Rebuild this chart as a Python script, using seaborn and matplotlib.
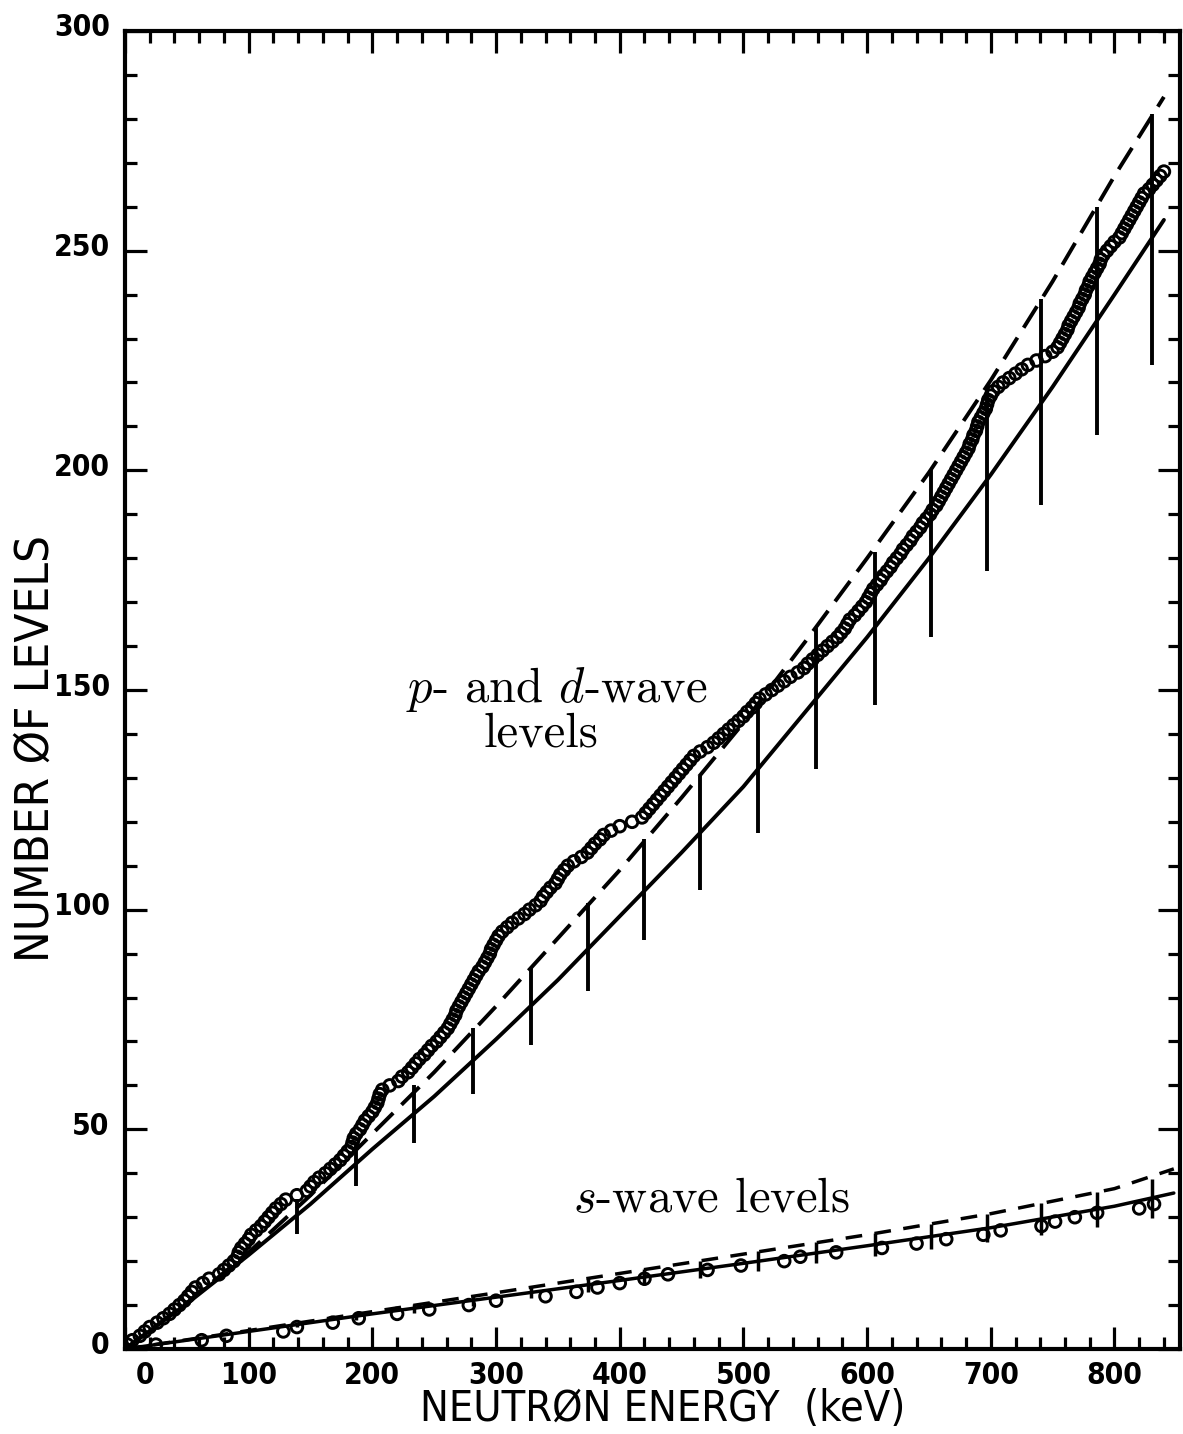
import matplotlib
matplotlib.use("Agg")
import matplotlib.pyplot as plt
import matplotlib.transforms as mtransforms
from matplotlib.ticker import MultipleLocator
import seaborn as sns
import pandas as pd

# ---------------- data ----------------
# p- and d-wave levels: energy (keV) of each successive level (count = index + 1)
p_level_E = [2, 6, 12, 16, 20, 26, 31, 36, 40, 44, 48, 51, 54, 57, 63, 68, 76, 80, 84, 88,
             91, 92, 94, 97, 100, 102, 106, 110, 113, 116, 119, 122, 126, 130, 139, 147, 150, 153, 157, 162,
             166, 170, 174, 177, 180, 183, 184, 185, 187, 190, 192, 194, 197, 200, 202, 204, 205, 206, 208, 214,
             221, 224, 229, 232, 235, 238, 242, 245, 248, 252, 255, 258, 261, 263, 265, 267, 268, 270, 272, 274,
             276, 278, 280, 282, 284, 286, 289, 291, 293, 295, 296, 298, 300, 302, 305, 309, 313, 318, 323, 327,
             332, 336, 338, 341, 344, 348, 350, 352, 355, 358, 363, 369, 374, 377, 380, 384, 387, 393, 400, 410,
             418, 421, 424, 427, 430, 433, 436, 439, 442, 445, 448, 451, 454, 457, 460, 465, 471, 476, 480, 484,
             488, 492, 496, 500, 503, 507, 510, 513, 518, 523, 528, 533, 538, 544, 549, 552, 556, 560, 564, 568,
             572, 576, 579, 582, 584, 586, 590, 593, 596, 599, 601, 603, 605, 608, 611, 613, 616, 619, 621, 624,
             627, 629, 632, 635, 637, 640, 643, 645, 648, 651, 653, 656, 658, 660, 662, 664, 666, 668, 670, 672,
             674, 676, 678, 680, 682, 683, 685, 686, 688, 689, 690, 692, 694, 696, 697, 698, 700, 702, 706, 710,
             715, 720, 725, 730, 737, 744, 750, 754, 756, 758, 760, 762, 763, 765, 767, 769, 771, 772, 774, 776,
             777, 779, 780, 782, 784, 786, 788, 789, 791, 794, 797, 800, 804, 806, 808, 810, 812, 814, 816, 818,
             820, 822, 824, 828, 831, 834, 837, 840]
p_level_N = list(range(1, len(p_level_E) + 1))

# s-wave levels
s_level_E = [25, 62, 82, 128, 139, 168, 189, 220, 246, 278, 300, 340, 365, 382, 400, 420, 439, 471,
             498, 533, 546, 575, 612, 640, 664, 694, 708, 741, 752, 768, 786, 820, 832]
s_level_N = list(range(1, len(s_level_E) + 1))

# smooth curves (solid and dashed) for p- and d-wave levels
p_curve_E = [0, 50, 100, 150, 200, 250, 300, 350, 400, 450, 500, 550, 600, 650, 700, 750, 800, 840]
p_solid = [0, 10.3, 21.4, 33, 45.5, 57.5, 70.5, 84, 98.5, 113, 128, 145, 162, 180, 199, 219, 240, 257]
p_dashed = [0, 10.5, 22, 35, 49, 63, 78, 93.5, 109, 125.5, 142.5, 161, 180, 199.5, 220.5, 243, 267, 285]

# smooth curves for s-wave levels
s_curve_E = [0, 100, 200, 300, 400, 500, 600, 700, 800, 848]
s_solid = [0, 4, 8, 11.8, 15.6, 19.5, 23.5, 27.6, 32.5, 35.5]
s_dashed = [0, 4.2, 8.5, 12.8, 17.2, 21.6, 26, 30.8, 36.5, 41]

# error bars
bar_E = [139, 187, 234, 281, 328, 374, 420, 465, 512, 559, 606, 652, 697, 741, 786, 830]
p_bar_mid = [30.2, 42, 53.5, 65.5, 78, 91.5, 104.5, 117.5, 132, 148, 164, 181, 198, 215.5, 234, 252.5]
p_bar_err = [4, 5, 6.5, 7.5, 8.7, 10, 11.5, 13, 14.5, 16, 17.5, 19, 21, 23.5, 26, 28.5]
s_bar_mid = [5.6, 7.5, 9.3, 11.1, 12.9, 14.6, 16.4, 18.1, 20, 21.9, 23.7, 25.6, 27.5, 29.6, 31.8, 34.3]
s_bar_err = [0.6, 0.8, 1.0, 1.2, 1.4, 1.6, 1.8, 2.0, 2.2, 2.4, 2.6, 2.9, 3.2, 3.6, 4.0, 4.5]

x_ticks = [0, 100, 200, 300, 400, 500, 600, 700, 800]
y_ticks = [0, 50, 100, 150, 200, 250, 300]
x_label = "NEUTRØN ENERGY  (keV)"
y_label = "NUMBER ØF LEVELS"

# ---------------- figure ----------------
sns.set_theme(style="ticks")
plt.rcParams["font.family"] = ["DejaVu Sans"]
plt.rcParams["mathtext.fontset"] = "cm"

W, H = 1183, 1434
fig = plt.figure(figsize=(W / 100, H / 100), dpi=100)
fig.patch.set_facecolor("white")
L, R, T, B = 125, 1180, 31, 1349
ax = fig.add_axes([L / W, 1 - B / H, (R - L) / W, (B - T) / H])
ax.set_facecolor("white")

ink = "black"
lw = 2.8

p_line_df = pd.DataFrame({"E": p_curve_E, "solid": p_solid, "dashed": p_dashed})
s_line_df = pd.DataFrame({"E": s_curve_E, "solid": s_solid, "dashed": s_dashed})

sns.lineplot(data=p_line_df, x="E", y="solid", ax=ax, color=ink, lw=lw,
             estimator=None, sort=False)
sns.lineplot(data=p_line_df, x="E", y="dashed", ax=ax, color=ink, lw=lw,
             estimator=None, sort=False, linestyle=(0, (6.5, 3)))
sns.lineplot(data=s_line_df, x="E", y="solid", ax=ax, color=ink, lw=2.5,
             estimator=None, sort=False)
sns.lineplot(data=s_line_df, x="E", y="dashed", ax=ax, color=ink, lw=2.5,
             estimator=None, sort=False, linestyle=(0, (4.8, 3.6)))

# error bars centred on the solid curves
p_lo = [m - e for m, e in zip(p_bar_mid, p_bar_err)]
p_hi = [m + e for m, e in zip(p_bar_mid, p_bar_err)]
s_lo = [m - e for m, e in zip(s_bar_mid, s_bar_err)]
s_hi = [m + e for m, e in zip(s_bar_mid, s_bar_err)]
ax.vlines(bar_E, p_lo, p_hi, color=ink, lw=lw)
ax.vlines(bar_E, s_lo, s_hi, color=ink, lw=2.5)

# level staircases as open circles
p_df = pd.DataFrame({"E": p_level_E, "N": p_level_N})
s_df = pd.DataFrame({"E": s_level_E, "N": s_level_N})
for df in (p_df, s_df):
    sns.scatterplot(data=df, x="E", y="N", ax=ax, marker="o", s=70,
                    facecolor="none", edgecolor=ink, linewidth=2.1, zorder=4)
for coll in ax.collections:
    if coll.get_offsets().shape[0] in (len(p_level_E), len(s_level_E)):
        coll.set_facecolor("none")
        coll.set_edgecolor(ink)
        coll.set_linewidth(2.1)

# annotations
txt_kw = dict(fontfamily="cmr10", fontsize=35, color=ink)
ax.text(349, 150, "$p$- and $d$-wave", ha="center", va="center", **txt_kw)
ax.text(336, 140, "levels", ha="center", va="center", **txt_kw)
ax.text(362, 33.9, "$s$-wave levels", ha="left", va="center", **txt_kw)

# axes styling
ax.set_xlim(0, 853)
ax.set_ylim(0, 300)
ax.set_xticks(x_ticks)
ax.set_yticks(y_ticks)
ax.xaxis.set_minor_locator(MultipleLocator(20))
ax.yaxis.set_minor_locator(MultipleLocator(10))
for sp in ax.spines.values():
    sp.set_visible(True)
    sp.set_linewidth(3.0)
    sp.set_color(ink)
ax.tick_params(which="both", direction="in", top=True, right=True, color=ink,
               width=2.3, labelsize=21.5, labelcolor=ink)
ax.tick_params(which="major", length=16)
ax.tick_params(which="minor", length=8.5)
ax.tick_params(axis="x", which="major", pad=9)
ax.tick_params(axis="y", which="major", pad=11)
for lab in ax.get_xticklabels() + ax.get_yticklabels():
    lab.set_fontstretch("condensed")
    lab.set_fontweight("bold")

# y tick labels sit slightly above their ticks; "0" on x is nudged right
up = mtransforms.ScaledTranslation(0, 6 / 100, fig.dpi_scale_trans)
for lab in ax.get_yticklabels():
    lab.set_transform(lab.get_transform() + up)
right = mtransforms.ScaledTranslation(20 / 100, 0, fig.dpi_scale_trans)
xl = ax.get_xticklabels()
xl[0].set_transform(xl[0].get_transform() + right)

ax.set_xlabel(x_label, fontsize=31, color=ink, fontstretch="condensed", va="top")
ax.set_ylabel(y_label, fontsize=34, color=ink, fontstretch="condensed", va="center")
ax.xaxis.set_label_coords((663 - L) / (R - L), -(1388 - B) / (B - T))
ax.yaxis.set_label_coords(-(L - 36) / (R - L), (B - 748) / (B - T))

fig.savefig("out.png", dpi=100, facecolor="white")
